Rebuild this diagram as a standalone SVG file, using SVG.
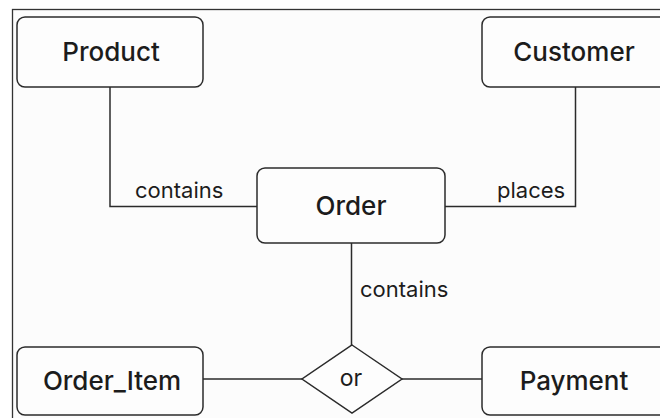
<svg xmlns="http://www.w3.org/2000/svg" width="660" height="418" viewBox="0 0 660 418">
<style>
.frame{fill:#fcfcfc;stroke:#333;stroke-width:1.3}
.box{fill:#fdfdfd;stroke:#2b2b2b;stroke-width:1.5}
.conn{fill:none;stroke:#2b2b2b;stroke-width:1.5}
.t{font-family:Inter,"Liberation Sans",sans-serif;font-size:26px;font-weight:500;fill:#1c1c1c;text-anchor:middle}
.lbl{font-family:Inter,"Liberation Sans",sans-serif;font-size:22px;font-weight:400;fill:#1c1c1c}
</style>
<rect x="0" y="0" width="660" height="418" fill="#ffffff"/>
<rect class="frame" x="12.5" y="9.5" width="700" height="450"/>
<g id="connectors">
<polyline class="conn" points="110,87 110,206.5 257,206.5"/>
<polyline class="conn" points="575.5,87 575.5,206.5 445,206.5"/>
<line class="conn" x1="351.5" y1="243" x2="351.5" y2="345"/>
<line class="conn" x1="203" y1="379" x2="302" y2="379"/>
<line class="conn" x1="402" y1="379" x2="482" y2="379"/>
<text class="lbl" x="135" y="198">contains</text>
<text class="lbl" x="497" y="198">places</text>
<text class="lbl" x="360" y="297">contains</text>
</g>
<g id="product">
<rect class="box" x="17" y="17" width="186" height="70" rx="8"/>
<text class="t" x="111" y="61">Product</text>
</g>
<g id="customer">
<rect class="box" x="482" y="17" width="186" height="70" rx="8"/>
<text class="t" x="574" y="61">Customer</text>
</g>
<g id="order">
<rect class="box" x="257" y="168" width="188" height="75" rx="8"/>
<text class="t" x="351" y="215">Order</text>
</g>
<g id="or">
<polygon class="box" points="352,345 402,379 352,413 302,379"/>
<text class="lbl" x="351" y="386" text-anchor="middle" style="font-size:23px">or</text>
</g>
<g id="order_item">
<rect class="box" x="17" y="347" width="186" height="68" rx="8"/>
<text class="t" x="112" y="390">Order_Item</text>
</g>
<g id="payment">
<rect class="box" x="482" y="347" width="186" height="68" rx="8"/>
<text class="t" x="574" y="390">Payment</text>
</g>
</svg>
